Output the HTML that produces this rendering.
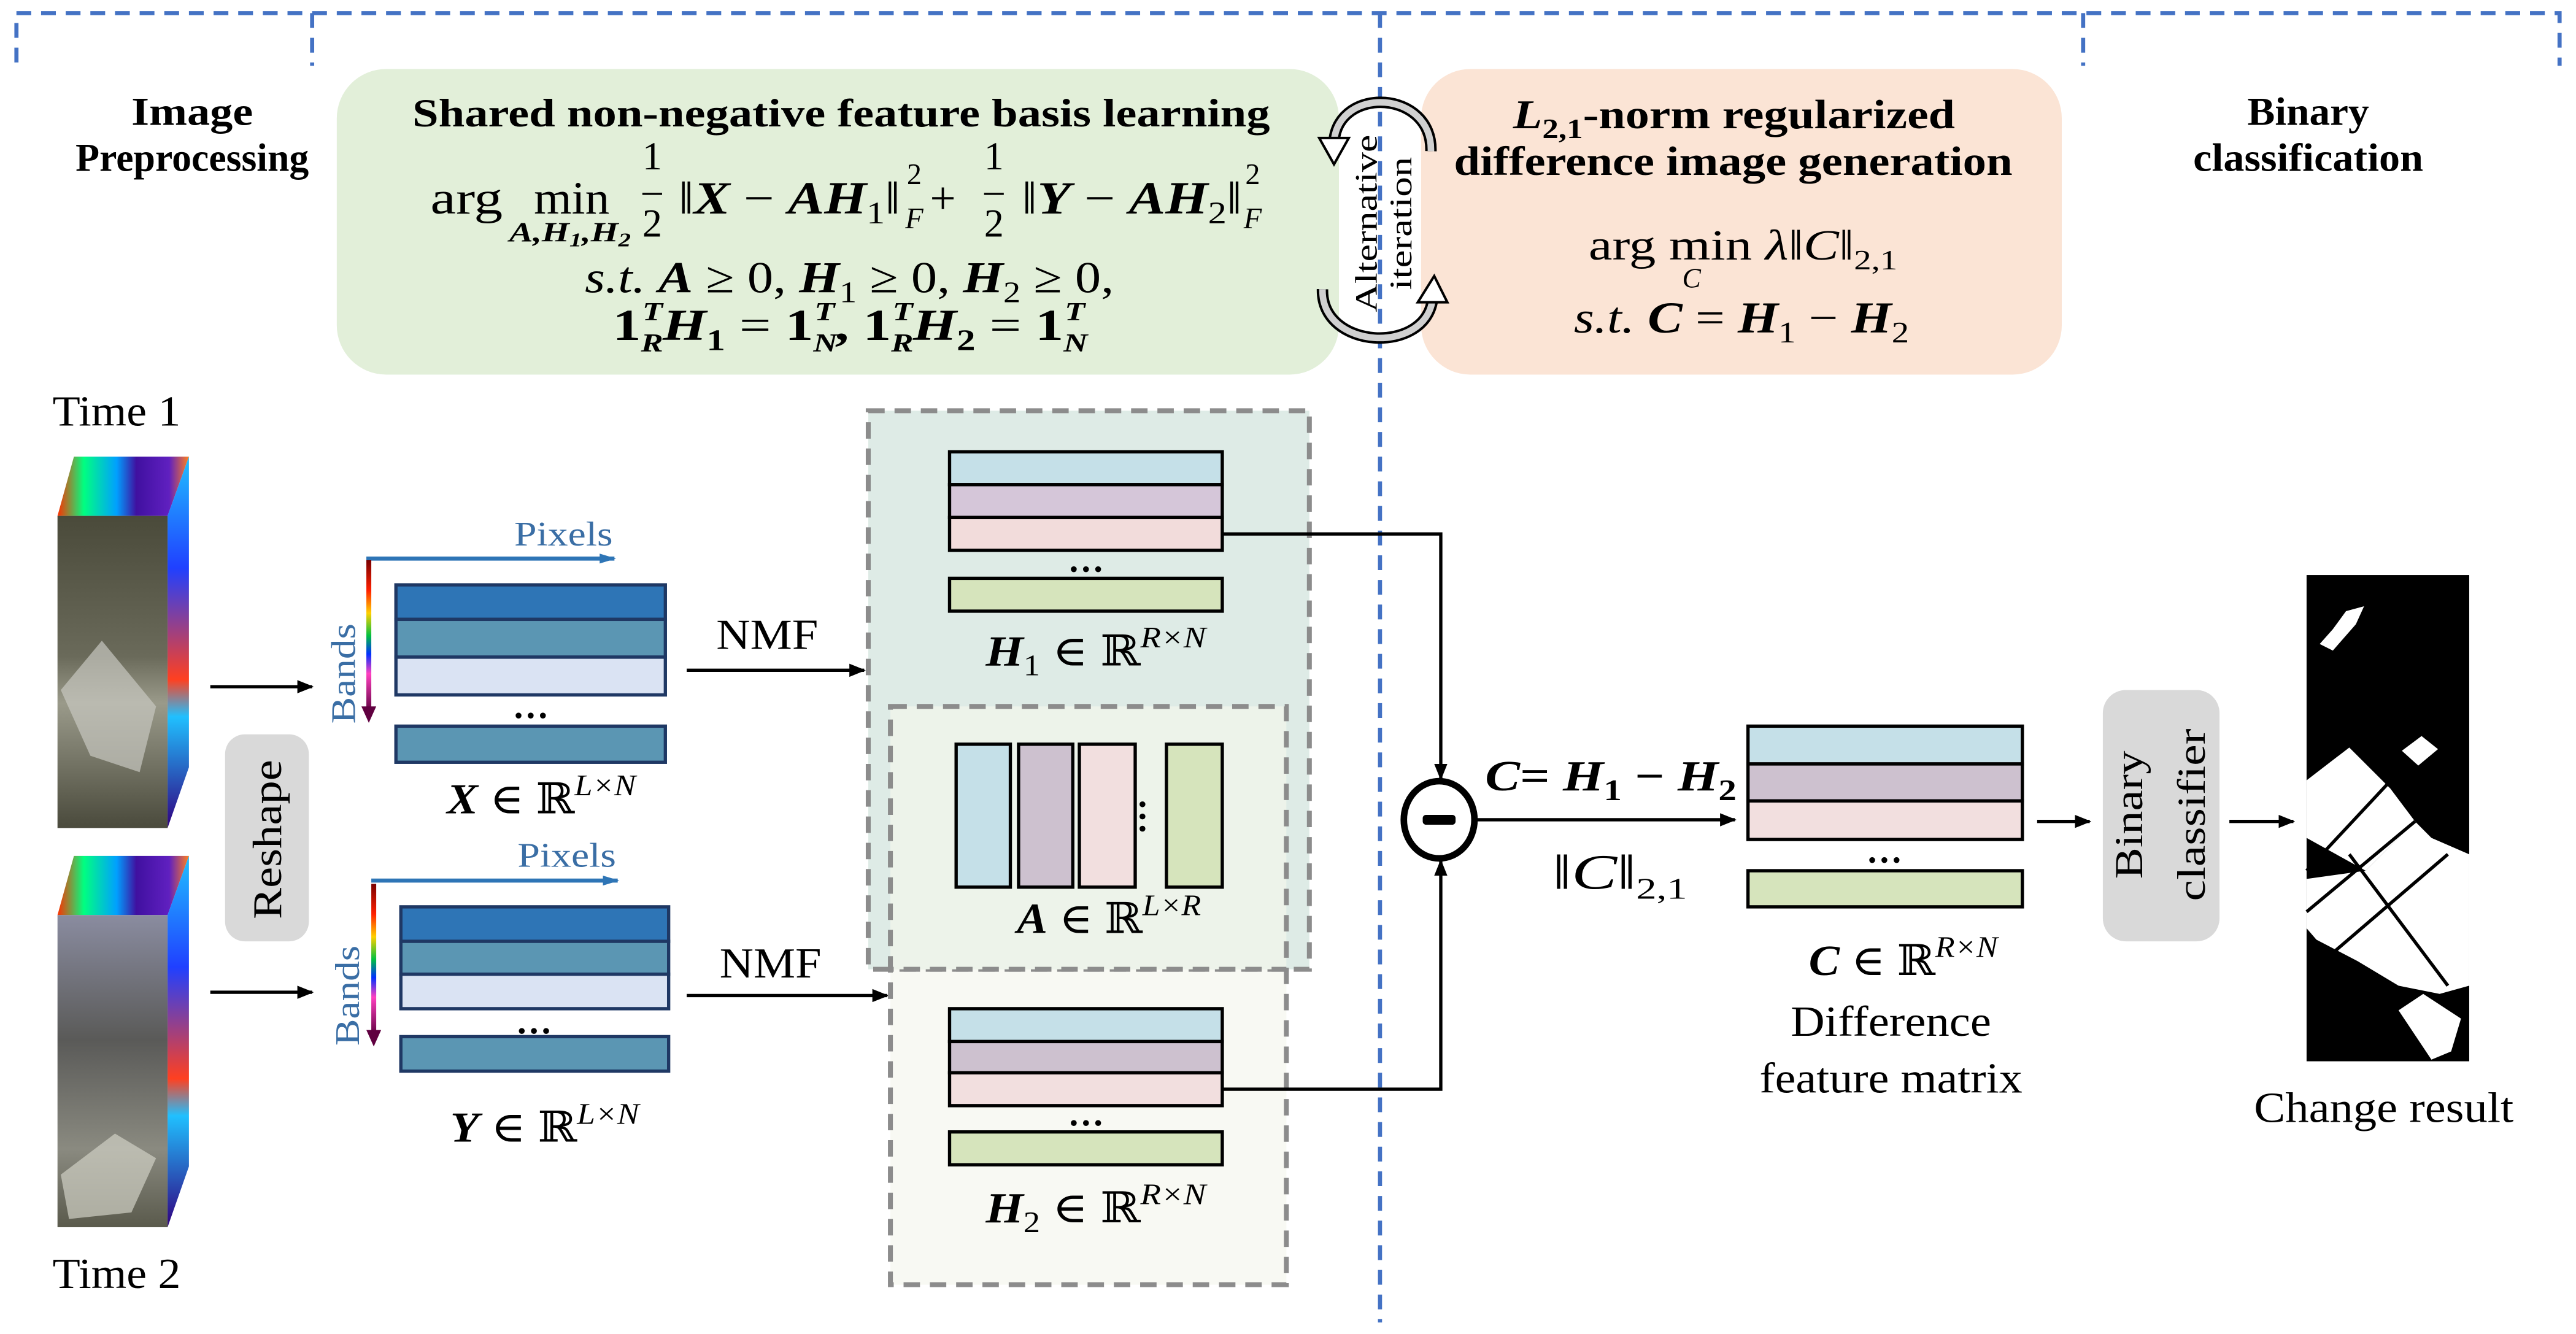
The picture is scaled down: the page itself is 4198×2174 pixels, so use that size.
<!DOCTYPE html>
<html><head><meta charset="utf-8"><style>
html,body{margin:0;padding:0;background:#fff}
svg{display:block}
text{font-family:"Liberation Serif","Times New Roman","DejaVu Serif",serif;fill:#000}
.b{font-weight:bold}
.i{font-style:italic}
</style></head><body>
<svg width="4198" height="2174" viewBox="0 0 1568 812" xmlns="http://www.w3.org/2000/svg">
<defs>
<linearGradient id="rb" x1="0" y1="0" x2="0" y2="1">
<stop offset="0" stop-color="#7a0000"/><stop offset="0.2" stop-color="#ff2000"/><stop offset="0.35" stop-color="#ffd000"/><stop offset="0.5" stop-color="#00c040"/><stop offset="0.62" stop-color="#0030ff"/><stop offset="0.75" stop-color="#ff40c0"/><stop offset="1" stop-color="#600040"/></linearGradient>
<linearGradient id="side" x1="0" y1="0" x2="0" y2="1">
<stop offset="0" stop-color="#20c0ff"/><stop offset="0.3" stop-color="#2040ff"/><stop offset="0.6" stop-color="#ff4020"/><stop offset="0.7" stop-color="#20c0ff"/><stop offset="1" stop-color="#300080"/></linearGradient>
<linearGradient id="top" x1="0" y1="0" x2="1" y2="0">
<stop offset="0" stop-color="#ff3000"/><stop offset="0.2" stop-color="#00ff80"/><stop offset="0.45" stop-color="#00a0ff"/><stop offset="0.6" stop-color="#4010a0"/><stop offset="0.85" stop-color="#6020c0"/><stop offset="1" stop-color="#ff8020"/></linearGradient>
<linearGradient id="img1" x1="0" y1="0" x2="0" y2="1">
<stop offset="0" stop-color="#4a4a3a"/><stop offset="0.45" stop-color="#6a6a5a"/><stop offset="0.6" stop-color="#9a9a8a"/><stop offset="1" stop-color="#4a4a3c"/></linearGradient>
<linearGradient id="img2" x1="0" y1="0" x2="0" y2="1">
<stop offset="0" stop-color="#8a8ca0"/><stop offset="0.4" stop-color="#5a5a58"/><stop offset="0.75" stop-color="#8a8a80"/><stop offset="1" stop-color="#5a5a4c"/></linearGradient>
<marker id="ar" markerWidth="10" markerHeight="10" refX="9" refY="5" orient="auto" markerUnits="userSpaceOnUse"><path d="M0,1 L10,5 L0,9 z" fill="#000"/></marker>
<marker id="arb" markerWidth="10" markerHeight="8" refX="9" refY="4" orient="auto" markerUnits="userSpaceOnUse"><path d="M0,1 L10,4 L0,7 z" fill="#2e75b6"/></marker>
</defs>

<!-- top dashed frame -->
<g stroke="#4472c4" stroke-width="2.5" stroke-dasharray="9,6" fill="none">
<path d="M10,38 V8 H1558 V40"/>
<path d="M190,8 V40"/>
<path d="M1268,8 V40"/>
<path d="M840,8 V805"/>
</g>

<!-- headers -->
<text x="117" y="76" font-size="24" class="b" text-anchor="middle" textLength="74" lengthAdjust="spacingAndGlyphs">Image</text>
<text x="117" y="104" font-size="24" class="b" text-anchor="middle" textLength="142" lengthAdjust="spacingAndGlyphs">Preprocessing</text>
<text x="1405" y="76" font-size="24" class="b" text-anchor="middle" textLength="74" lengthAdjust="spacingAndGlyphs">Binary</text>
<text x="1405" y="104" font-size="24" class="b" text-anchor="middle" textLength="140" lengthAdjust="spacingAndGlyphs">classification</text>

<!-- green box -->
<rect x="205" y="42" width="610" height="186" rx="30" fill="#e2efd9"/>
<text x="251" y="77" font-size="24" class="b" textLength="522" lengthAdjust="spacingAndGlyphs">Shared non-negative feature basis learning</text>
<text x="262" y="130" font-size="28" textLength="44" lengthAdjust="spacingAndGlyphs">arg</text>
<text x="325" y="130" font-size="28" textLength="46" lengthAdjust="spacingAndGlyphs">min</text>
<text x="310" y="147" font-size="17" class="i b" textLength="74" lengthAdjust="spacingAndGlyphs">A,H<tspan font-size="12" dy="3">1</tspan><tspan dy="-3">,H</tspan><tspan font-size="12" dy="3">2</tspan></text>
<text x="397" y="103" font-size="24" text-anchor="middle">1</text>
<line x1="391" y1="118" x2="403" y2="118" stroke="#000" stroke-width="1.3"/>
<text x="397" y="144" font-size="24" text-anchor="middle">2</text>
<text x="413" y="130" font-size="28" textLength="135" lengthAdjust="spacingAndGlyphs"><tspan>‖</tspan><tspan class="i b">X</tspan> − <tspan class="i b">AH</tspan><tspan font-size="19" dy="6">1</tspan><tspan dy="-6">‖</tspan></text>
<text x="552" y="112" font-size="18">2</text>
<text x="551" y="139" font-size="18" class="i">F</text>
<text x="566" y="130" font-size="28">+</text>
<text x="605" y="103" font-size="24" text-anchor="middle">1</text>
<line x1="599" y1="118" x2="611" y2="118" stroke="#000" stroke-width="1.3"/>
<text x="605" y="144" font-size="24" text-anchor="middle">2</text>
<text x="622" y="130" font-size="28" textLength="134" lengthAdjust="spacingAndGlyphs"><tspan>‖</tspan><tspan class="i b">Y</tspan> − <tspan class="i b">AH</tspan><tspan font-size="19" dy="6">2</tspan><tspan dy="-6">‖</tspan></text>
<text x="758" y="112" font-size="18">2</text>
<text x="757" y="139" font-size="18" class="i">F</text>

<text x="356" y="178" font-size="27" textLength="322" lengthAdjust="spacingAndGlyphs"><tspan class="i">s.t.</tspan> <tspan class="i b">A</tspan> ≥ 0, <tspan class="i b">H</tspan><tspan font-size="18" dy="6">1</tspan><tspan dy="-6"> ≥ 0, </tspan><tspan class="i b">H</tspan><tspan font-size="18" dy="6">2</tspan><tspan dy="-6"> ≥ 0,</tspan></text>
<text x="373" y="207" font-size="27" class="b" textLength="289" lengthAdjust="spacingAndGlyphs"><tspan>1</tspan><tspan font-size="16" dy="7" class="i">R</tspan><tspan font-size="16" dx="-10" dy="-19" class="i">T</tspan><tspan dy="12" class="i">H</tspan><tspan font-size="18" dy="6">1</tspan><tspan dy="-6" font-weight="normal"> = </tspan><tspan>1</tspan><tspan font-size="16" dy="7" class="i">N</tspan><tspan font-size="16" dx="-11" dy="-19" class="i">T</tspan><tspan dy="12">, 1</tspan><tspan font-size="16" dy="7" class="i">R</tspan><tspan font-size="16" dx="-10" dy="-19" class="i">T</tspan><tspan dy="12" class="i">H</tspan><tspan font-size="18" dy="6">2</tspan><tspan dy="-6" font-weight="normal"> = </tspan><tspan>1</tspan><tspan font-size="16" dy="7" class="i">N</tspan><tspan font-size="16" dx="-11" dy="-19" class="i">T</tspan></text>

<!-- orange box -->
<rect x="865" y="42" width="390" height="186" rx="30" fill="#fbe4d5"/>
<text x="921" y="78" font-size="25" class="b" textLength="269" lengthAdjust="spacingAndGlyphs"><tspan class="i">L</tspan><tspan font-size="17" dy="6">2,1</tspan><tspan dy="-6">-norm regularized</tspan></text>
<text x="885" y="106.5" font-size="25" class="b" textLength="340" lengthAdjust="spacingAndGlyphs">difference image generation</text>
<text x="967" y="158" font-size="26" textLength="188" lengthAdjust="spacingAndGlyphs">arg min <tspan class="i">λ</tspan>‖<tspan class="i">C</tspan>‖<tspan font-size="17" dy="6">2,1</tspan></text>
<text x="1024" y="175" font-size="17" class="i">C</text>
<text x="958" y="202.5" font-size="27" textLength="204" lengthAdjust="spacingAndGlyphs"><tspan class="i">s.t.</tspan> <tspan class="i b">C</tspan> = <tspan class="i b">H</tspan><tspan font-size="18" dy="6">1</tspan><tspan dy="-6"> − </tspan><tspan class="i b">H</tspan><tspan font-size="18" dy="6">2</tspan></text>

<!-- alternative iteration -->
<g fill="none" stroke-linecap="butt">
<path d="M871,92 C872,55 815,52 812,86" stroke="#000" stroke-width="7"/>
<path d="M871,92 C872,55 815,52 812,86" stroke="#d0d0d0" stroke-width="4"/>
<path d="M805,176 C804,213 868,216 872,182" stroke="#000" stroke-width="7"/>
<path d="M805,176 C804,213 868,216 872,182" stroke="#d0d0d0" stroke-width="4"/>
</g>
<polygon points="803,84 821,84 812,100" fill="#fff" stroke="#000" stroke-width="1.5"/>
<polygon points="863,184 881,184 873,168" fill="#fff" stroke="#000" stroke-width="1.5"/>
<text transform="translate(838,136) rotate(-90)" font-size="19" text-anchor="middle" textLength="108" lengthAdjust="spacingAndGlyphs">Alternative</text>
<text transform="translate(859,136) rotate(-90)" font-size="19" text-anchor="middle" textLength="81" lengthAdjust="spacingAndGlyphs">iteration</text>

<!-- time images -->
<text x="32" y="259" font-size="26" textLength="78" lengthAdjust="spacingAndGlyphs">Time 1</text>
<text x="32" y="784" font-size="26" textLength="78" lengthAdjust="spacingAndGlyphs">Time 2</text>
<g>
<polygon points="35,314 45,278 115,278 102,314" fill="url(#top)"/>
<polygon points="102,314 115,278 115,467 102,504" fill="url(#side)"/>
<rect x="35" y="314" width="67" height="190" fill="url(#img1)"/>
<polygon points="37,420 62,390 95,430 85,470 55,460" fill="#c8c8c0" opacity="0.7"/>
<polygon points="35,557 45,521 115,521 102,557" fill="url(#top)"/>
<polygon points="102,557 115,521 115,710 102,747" fill="url(#side)"/>
<rect x="35" y="557" width="67" height="190" fill="url(#img2)"/>
<polygon points="37,715 70,690 95,705 80,738 42,742" fill="#d0d0c4" opacity="0.7"/>
</g>

<!-- arrows to matrices -->
<line x1="128" y1="418" x2="190" y2="418" stroke="#000" stroke-width="2" marker-end="url(#ar)"/>
<line x1="128" y1="604" x2="190" y2="604" stroke="#000" stroke-width="2" marker-end="url(#ar)"/>
<rect x="137" y="447" width="51" height="126" rx="12" fill="#d9d9d9"/>
<text transform="translate(171,511) rotate(-90)" font-size="25" text-anchor="middle" textLength="97" lengthAdjust="spacingAndGlyphs">Reshape</text>

<!-- X matrix -->
<line x1="223" y1="340" x2="374" y2="340" stroke="#2e75b6" stroke-width="2.5" marker-end="url(#arb)"/>
<text x="343" y="332" font-size="21" text-anchor="middle" style="fill:#3a6ea5" textLength="60" lengthAdjust="spacingAndGlyphs">Pixels</text>
<rect x="223" y="341" width="3" height="92" fill="url(#rb)"/>
<path d="M220,430 L229,430 L224.5,440 z" fill="#600040"/>
<text transform="translate(216,410) rotate(-90)" font-size="21" text-anchor="middle" style="fill:#3a6ea5" textLength="61" lengthAdjust="spacingAndGlyphs">Bands</text>
<g stroke="#1f3864" stroke-width="2">
<rect x="241" y="356" width="164" height="21" fill="#2e75b6"/>
<rect x="241" y="377" width="164" height="23" fill="#5b96b3"/>
<rect x="241" y="400" width="164" height="23" fill="#dae3f3"/>
<rect x="241" y="442" width="164" height="22" fill="#5b96b3"/>
</g>
<text x="323" y="437" font-size="22" text-anchor="middle" class="b">…</text>
<text x="272" y="495" font-size="26" textLength="115" lengthAdjust="spacingAndGlyphs"><tspan class="i b">X</tspan> ∈ ℝ<tspan font-size="18" dy="-11" class="i">L×N</tspan></text>

<!-- Y matrix -->
<line x1="226" y1="536" x2="376" y2="536" stroke="#2e75b6" stroke-width="2.5" marker-end="url(#arb)"/>
<text x="345" y="527.5" font-size="21" text-anchor="middle" style="fill:#3a6ea5" textLength="60" lengthAdjust="spacingAndGlyphs">Pixels</text>
<rect x="226" y="538" width="3" height="92" fill="url(#rb)"/>
<path d="M223,627 L232,627 L227.5,637 z" fill="#600040"/>
<text transform="translate(218.5,606) rotate(-90)" font-size="21" text-anchor="middle" style="fill:#3a6ea5" textLength="61" lengthAdjust="spacingAndGlyphs">Bands</text>
<g stroke="#1f3864" stroke-width="2">
<rect x="244" y="552" width="163" height="21" fill="#2e75b6"/>
<rect x="244" y="573" width="163" height="20" fill="#5b96b3"/>
<rect x="244" y="593" width="163" height="21" fill="#dae3f3"/>
<rect x="244" y="631" width="163" height="21" fill="#5b96b3"/>
</g>
<text x="325" y="629" font-size="22" text-anchor="middle" class="b">…</text>
<text x="274" y="695" font-size="26" textLength="115" lengthAdjust="spacingAndGlyphs"><tspan class="i b">Y</tspan> ∈ ℝ<tspan font-size="18" dy="-11" class="i">L×N</tspan></text>

<!-- NMF -->
<text x="436" y="395" font-size="26" textLength="62" lengthAdjust="spacingAndGlyphs">NMF</text>
<line x1="418" y1="408" x2="526" y2="408" stroke="#000" stroke-width="2" marker-end="url(#ar)"/>
<text x="438" y="595" font-size="26" textLength="62" lengthAdjust="spacingAndGlyphs">NMF</text>
<line x1="418" y1="606" x2="540" y2="606" stroke="#000" stroke-width="2" marker-end="url(#ar)"/>

<!-- dashed boxes -->
<rect x="542" y="430" width="241" height="352" fill="#f8f9f3" stroke="#8c8c8c" stroke-width="3" stroke-dasharray="10,6"/>
<rect x="528.5" y="250" width="268.5" height="340" fill="#deebe6" stroke="#8c8c8c" stroke-width="3" stroke-dasharray="10,6"/>
<rect x="542" y="430" width="241" height="160" fill="#edf3ea" stroke="#8c8c8c" stroke-width="3" stroke-dasharray="10,6"/>

<g stroke="#000" stroke-width="2">
<rect x="578" y="275" width="166" height="20" fill="#c5e0e8"/>
<rect x="578" y="295" width="166" height="20" fill="#d5c6d9"/>
<rect x="578" y="315" width="166" height="20" fill="#f2dcdb"/>
<rect x="578" y="352" width="166" height="20" fill="#d6e4bc"/>
<rect x="582" y="453" width="33" height="87" fill="#c5e0e8"/>
<rect x="620" y="453" width="33" height="87" fill="#cdc1cf"/>
<rect x="657" y="453" width="34" height="87" fill="#f2dfdf"/>
<rect x="710" y="453" width="34" height="87" fill="#d6e4bc"/>
<rect x="578" y="614" width="166" height="20" fill="#c5e0e8"/>
<rect x="578" y="634" width="166" height="19" fill="#cdc1cf"/>
<rect x="578" y="653" width="166" height="20" fill="#f2dfdf"/>
<rect x="578" y="689" width="166" height="20" fill="#d6e4bc"/>
<rect x="1064" y="442" width="167" height="23" fill="#c5e0e8"/>
<rect x="1064" y="465" width="167" height="22.5" fill="#cdc1cf"/>
<rect x="1064" y="487.5" width="167" height="23.5" fill="#f2dfdf"/>
<rect x="1064" y="530" width="167" height="22" fill="#d6e4bc"/>
</g>
<text x="661" y="348" font-size="22" text-anchor="middle" class="b">…</text>
<text x="700" y="503" font-size="22" class="b" transform="rotate(90,700,497)" text-anchor="middle">…</text>
<text x="661" y="685" font-size="22" text-anchor="middle" class="b">…</text>
<text x="1147" y="525" font-size="22" text-anchor="middle" class="b">…</text>

<text x="600" y="405" font-size="26" textLength="134" lengthAdjust="spacingAndGlyphs"><tspan class="i b">H</tspan><tspan font-size="18" dy="6">1</tspan><tspan dy="-6"> ∈ ℝ</tspan><tspan font-size="18" dy="-11" class="i">R×N</tspan></text>
<text x="619" y="568" font-size="26" textLength="112" lengthAdjust="spacingAndGlyphs"><tspan class="i b">A</tspan> ∈ ℝ<tspan font-size="18" dy="-11" class="i">L×R</tspan></text>
<text x="600" y="744" font-size="26" textLength="134" lengthAdjust="spacingAndGlyphs"><tspan class="i b">H</tspan><tspan font-size="18" dy="6">2</tspan><tspan dy="-6"> ∈ ℝ</tspan><tspan font-size="18" dy="-11" class="i">R×N</tspan></text>

<!-- connectors -->
<path d="M744,325 H877 V474" fill="none" stroke="#000" stroke-width="2" marker-end="url(#ar)"/>
<path d="M744,663 H877 V524" fill="none" stroke="#000" stroke-width="2" marker-end="url(#ar)"/>
<ellipse cx="876" cy="499" rx="21.5" ry="23.5" fill="#fff" stroke="#000" stroke-width="4"/>
<rect x="866" y="496" width="20" height="6" rx="2" fill="#000"/>
<line x1="898" y1="499" x2="1056" y2="499" stroke="#000" stroke-width="2" marker-end="url(#ar)"/>
<text x="904" y="481" font-size="26" class="b" textLength="153" lengthAdjust="spacingAndGlyphs"><tspan class="i">C</tspan>= <tspan class="i">H</tspan><tspan font-size="18" dy="6">1</tspan><tspan dy="-6"> − </tspan><tspan class="i">H</tspan><tspan font-size="18" dy="6">2</tspan></text>
<text x="945" y="541" font-size="30" textLength="82" lengthAdjust="spacingAndGlyphs">‖<tspan class="i">C</tspan>‖<tspan font-size="18" dy="6">2,1</tspan></text>

<text x="1101" y="593.5" font-size="26" textLength="115" lengthAdjust="spacingAndGlyphs"><tspan class="i b">C</tspan> ∈ ℝ<tspan font-size="18" dy="-11" class="i">R×N</tspan></text>
<text x="1090" y="630.5" font-size="26" textLength="122" lengthAdjust="spacingAndGlyphs">Difference</text>
<text x="1071" y="665" font-size="26" textLength="160" lengthAdjust="spacingAndGlyphs">feature matrix</text>

<line x1="1240" y1="500" x2="1272" y2="500" stroke="#000" stroke-width="2" marker-end="url(#ar)"/>
<rect x="1280" y="420" width="71" height="153" rx="14" fill="#d9d9d9"/>
<text transform="translate(1304,496) rotate(-90)" font-size="24" text-anchor="middle" textLength="78" lengthAdjust="spacingAndGlyphs">Binary</text>
<text transform="translate(1342,496) rotate(-90)" font-size="24" text-anchor="middle" textLength="105" lengthAdjust="spacingAndGlyphs">classifier</text>
<line x1="1357" y1="500" x2="1396" y2="500" stroke="#000" stroke-width="2" marker-end="url(#ar)"/>

<!-- change result -->
<rect x="1404" y="350" width="99" height="296" fill="#000"/>
<g fill="#fff">
<polygon points="1412,392 1420,383 1428,372 1439,369 1434,380 1420,396"/>
<polygon points="1404,475 1430,455 1455,480 1470,500 1440,530 1404,510"/>
<polygon points="1440,530 1470,500 1480,510 1503,520 1503,600 1485,605 1460,600 1435,585 1410,572 1404,565 1404,535"/>
<polygon points="1462,457 1474,448 1484,456 1472,466"/>
<polygon points="1460,615 1475,605 1498,620 1492,640 1480,645"/>
</g>
<g stroke="#000" stroke-width="2" fill="none">
<line x1="1404" y1="530" x2="1460" y2="470"/>
<line x1="1420" y1="580" x2="1490" y2="520"/>
<line x1="1430" y1="520" x2="1490" y2="600"/>
<line x1="1404" y1="555" x2="1470" y2="500"/>
</g>
<text x="1372" y="683" font-size="26" textLength="158" lengthAdjust="spacingAndGlyphs">Change result</text>
</svg>
</body></html>
